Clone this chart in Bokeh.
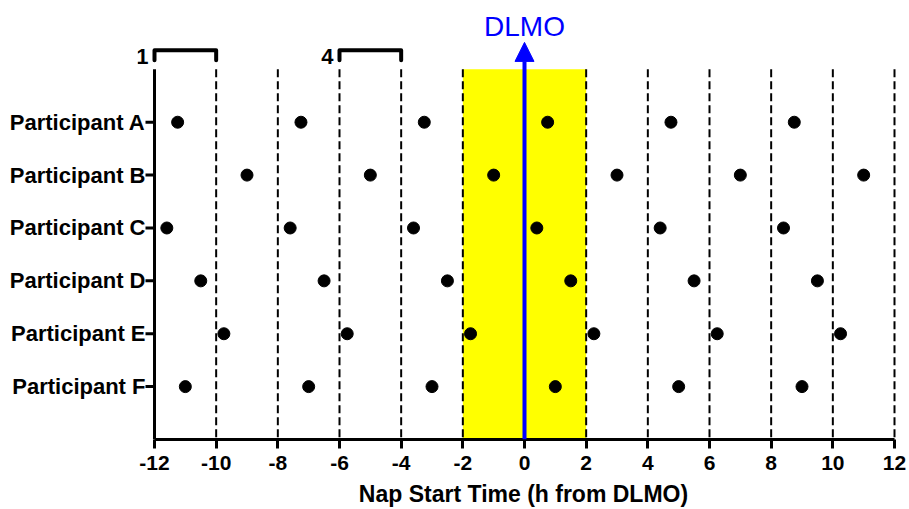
from bokeh.plotting import figure
from bokeh.models import Range1d, FixedTicker, Arrow, NormalHead, Label
from bokeh.embed import file_html
from bokeh.resources import INLINE

# ---- data ----
participants = ["Participant A", "Participant B", "Participant C",
                "Participant D", "Participant E", "Participant F"]
nap_a = [-11.25, -7.25, -3.25, 0.75, 4.75, 8.75]
nap_b = [-9.0, -5.0, -1.0, 3.0, 7.0, 11.0]
nap_c = [-11.6, -7.6, -3.6, 0.4, 4.4, 8.4]
nap_d = [-10.5, -6.5, -2.5, 1.5, 5.5, 9.5]
nap_e = [-9.75, -5.75, -1.75, 2.25, 6.25, 10.25]
nap_f = [-11.0, -7.0, -3.0, 1.0, 5.0, 9.0]
x_ticks = [-12, -10, -8, -6, -4, -2, 0, 2, 4, 6, 8, 10, 12]
x_tick_labels = ["-12", "-10", "-8", "-6", "-4", "-2", "0", "2", "4", "6", "8", "10", "12"]
window_edges = [-10, -8, -6, -4, -2, 2, 4, 6, 8, 10, 12]
shade_start, shade_end = -2, 2
dlmo = 0
bracket_starts = [-12, -6]
bracket_ends = [-10, -4]
bracket_labels = ["1", "4"]

FONT = "Liberation Sans"
n_rows = len(participants)
x_min, x_max = x_ticks[0], x_ticks[-1]
row_pos = list(range(1, n_rows + 1))

# layout (pixels)
W, H = 909, 509
axis_left_px, axis_right_px = 154, 894
frame_left_px, frame_right_px = 137, 909
tick_len_px = 9
ppu = (axis_right_px - axis_left_px) / (x_max - x_min)
x_start = x_min - (axis_left_px - frame_left_px) / ppu
x_end = x_max + (frame_right_px - axis_right_px) / ppu

p = figure(width=W, height=H, output_backend="svg", toolbar_location=None,
           x_range=Range1d(x_start, x_end), y_range=Range1d(n_rows + 1, -1.302),
           min_border_left=frame_left_px, min_border_right=W - frame_right_px,
           min_border_top=0, min_border_bottom=69)
p.outline_line_color = None
p.xgrid.visible = False
p.ygrid.visible = False
p.background_fill_color = "white"

# yellow shaded window around DLMO
p.quad(left=[shade_start], right=[shade_end], bottom=[n_rows + 1], top=[0],
       fill_color="#FFFF00", line_color=None)

# dashed window edges
p.segment(x0=window_edges, x1=window_edges, y0=[0] * len(window_edges),
          y1=[n_rows + 1] * len(window_edges), line_color="black",
          line_width=2, line_dash="8 4")

# left axis line at x = -12 with outward ticks at each participant row
p.segment(x0=[x_min], x1=[x_min], y0=[0], y1=[n_rows + 1], line_color="black",
          line_width=3)
tick_x0 = x_min - tick_len_px / ppu
p.segment(x0=[tick_x0] * n_rows, x1=[x_min] * n_rows, y0=row_pos, y1=row_pos,
          line_color="black", line_width=3)

# DLMO arrow
p.add_layout(Arrow(end=NormalHead(size=19, fill_color="#0000FF", line_color="#0000FF",
                                  line_width=1),
                   x_start=dlmo, y_start=n_rows + 1, x_end=dlmo, y_end=-0.51,
                   line_color="#0000FF", line_width=4))
p.add_layout(Label(x=dlmo, y=-0.81, text="DLMO", text_color="#0000FF",
                   text_font=FONT, text_font_size="28px", text_align="center",
                   text_baseline="alphabetic"))

# brackets
bx, by = [], []
for s, e in zip(bracket_starts, bracket_ends):
    bx.append([s, s, e, e])
    by.append([-0.17, -0.36, -0.36, -0.17])
p.multi_line(xs=bx, ys=by, line_color="black", line_width=4, line_join="round",
             line_cap="round")
for s, lab in zip(bracket_starts, bracket_labels):
    p.add_layout(Label(x=s, y=-0.245, x_offset=-6, text=lab, text_color="black",
                       text_font=FONT, text_font_size="22px",
                       text_font_style="bold", text_align="right",
                       text_baseline="alphabetic"))

# nap points
all_x, all_y = [], []
for i, row in enumerate([nap_a, nap_b, nap_c, nap_d, nap_e, nap_f]):
    all_x += row
    all_y += [row_pos[i]] * len(row)
p.scatter(x=all_x, y=all_y, size=12, fill_color="black", line_color="black")

# x axis
xa = p.xaxis[0]
xa.ticker = FixedTicker(ticks=x_ticks)
xa.major_label_overrides = {t: s for t, s in zip(x_ticks, x_tick_labels)}
xa.bounds = (x_min, x_max)
xa.axis_line_width = 3
xa.major_tick_line_width = 3
xa.major_tick_out = 9
xa.major_tick_in = 0
xa.minor_tick_line_color = None
xa.major_label_standoff = 7
xa.major_label_text_font = FONT
xa.major_label_text_font_style = "bold"
xa.major_label_text_font_size = "21px"
xa.major_label_text_color = "black"
xa.axis_label = "Nap Start Time (h from DLMO)"
xa.axis_label_text_font = FONT
xa.axis_label_text_font_style = "bold"
xa.axis_label_text_font_size = "23px"
xa.axis_label_text_color = "black"
xa.axis_label_standoff = 8

# y axis: labels only, pulled in so they end just left of the tick marks
gap = axis_left_px - frame_left_px
ya = p.yaxis[0]
ya.ticker = FixedTicker(ticks=row_pos)
ya.major_label_overrides = {r: name for r, name in zip(row_pos, participants)}
ya.axis_line_color = None
ya.major_tick_line_color = None
ya.major_tick_out = 0
ya.major_tick_in = 0
ya.minor_tick_out = 0
ya.minor_tick_in = 0
ya.minor_tick_line_color = None
ya.major_label_standoff = -(gap - tick_len_px)
ya.major_label_text_font = FONT
ya.major_label_text_font_style = "bold"
ya.major_label_text_font_size = "22px"
ya.major_label_text_color = "black"

open("out.html", "w").write(file_html(p, INLINE))
